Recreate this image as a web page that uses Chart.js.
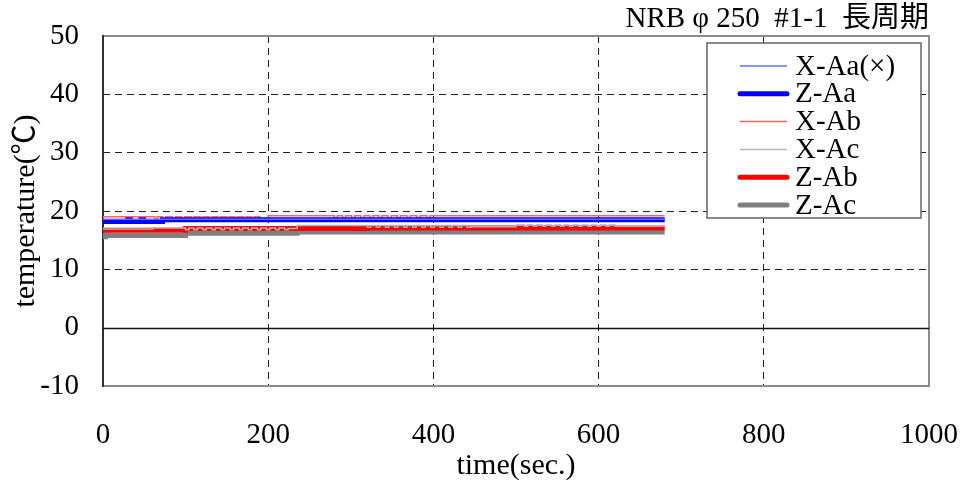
<!DOCTYPE html>
<html>
<head>
<meta charset="utf-8">
<script src="https://cdn.jsdelivr.net/npm/chart.js@4"></script>
<style>
  html, body { margin: 0; padding: 0; background: #fff; }
  #wrap { width: 962px; height: 488px; }
</style>
</head>
<body>
<div id="wrap"><canvas id="myChart"></canvas></div>
<script>
// series (time in sec, temperature in deg C), held as steps
var seriesNames = ["X-Aa(×)", "Z-Aa", "X-Ab", "X-Ac", "Z-Ab", "Z-Ac"];

var xaaT = [0, 680];
var xaaV = [18.6, 18.6];

var zaaT = [0, 30, 33, 46, 49, 72, 75, 680];
var zaaV = [18.5, 18.2, 18.5, 18.2, 18.5, 18.2, 18.5, 18.5];

var xabT = [0, 63, 66, 72, 76, 84, 88, 95, 99, 107, 110, 118, 121, 129, 132, 139, 142, 150, 153, 160, 163, 170, 173, 180, 183, 190, 193, 200,
            280, 284, 290, 294, 301, 305, 312, 316, 323, 327, 334, 338, 345, 349, 356, 360, 368, 372, 380, 384, 392, 396, 404, 410, 680];
var xabV = [18.7, 19.0, 18.7, 19.0, 18.7, 19.0, 18.7, 19.0, 18.7, 19.0, 18.7, 19.0, 18.7, 19.0, 18.7, 19.0, 18.7, 19.0, 18.7, 19.0, 18.7, 19.0, 18.7, 19.0, 18.7, 19.0, 18.7, 18.7,
            19.2, 18.9, 19.2, 18.9, 19.2, 18.9, 19.2, 18.9, 19.2, 18.9, 19.2, 18.9, 19.2, 18.9, 19.2, 18.9, 19.2, 18.9, 19.2, 18.9, 19.2, 18.9, 19.2, 19.2, 19.2];

var xacT = [0, 60,
            100, 104, 110, 114, 121, 125, 132, 136, 143, 147, 154, 158, 165, 169, 176, 180, 187, 191, 198, 202, 209, 213, 220, 224,
            235,
            320, 324, 331, 335, 342, 346, 353, 357, 364, 368, 375, 379, 386, 390, 397, 401, 408, 412, 419, 423, 430, 434, 441, 445,
            500,
            510, 514, 521, 525, 532, 536, 543, 547, 554, 558, 565, 569, 576, 580, 587, 591, 598, 602, 609, 613, 620, 624,
            680];
var xacV = [17.2, 16.9,
            17.1, 16.8, 17.1, 16.8, 17.1, 16.8, 17.1, 16.8, 17.1, 16.8, 17.1, 16.8, 17.1, 16.8, 17.1, 16.8, 17.1, 16.8, 17.1, 16.8, 17.1, 16.8, 17.1, 16.8,
            17.0,
            17.5, 17.2, 17.5, 17.2, 17.5, 17.2, 17.5, 17.2, 17.5, 17.2, 17.5, 17.2, 17.5, 17.2, 17.5, 17.2, 17.5, 17.2, 17.5, 17.2, 17.5, 17.2, 17.5, 17.2,
            17.3,
            17.6, 17.4, 17.6, 17.4, 17.6, 17.4, 17.6, 17.4, 17.6, 17.4, 17.6, 17.4, 17.6, 17.4, 17.6, 17.4, 17.6, 17.4, 17.6, 17.4, 17.6, 17.4,
            17.4];

var zabT = [0, 100, 320, 500, 680];
var zabV = [16.5, 16.7, 17.0, 17.1, 17.1];

var zacT = [0, 3, 7, 100, 235, 440, 680];
var zacV = [15.9, 15.6, 15.9, 15.8, 16.2, 16.4, 16.4];

var xTicks = [0, 200, 400, 600, 800, 1000];
var yTicks = [-10, 0, 10, 20, 30, 40, 50];

var chartTitle = "NRB φ 250  #1-1  長周期";
var FONT = "'Liberation Serif', 'Times New Roman', 'Noto Sans CJK JP', serif";

function pts(t, v) {
    return t.map(function (x, i) { return { x: x, y: v[i] }; });
}

var colors = ['#5f6fff', '#0000ff', '#ff6060', '#b4b4b4', '#ff0000', '#808080'];
var widths = [1.5, 5, 1.5, 1.5, 5, 5];
var series = [pts(xaaT, xaaV), pts(zaaT, zaaV), pts(xabT, xabV), pts(xacT, xacV), pts(zabT, zabV), pts(zacT, zacV)];

var datasets = seriesNames.map(function (name, i) {
    return {
        label: name,
        data: series[i],
        borderColor: colors[i],
        backgroundColor: colors[i],
        borderWidth: widths[i],
        pointRadius: 0,
        stepped: 'after',
        fill: false
    };
});

var framePlugin = {
    id: 'frame',
    beforeDatasetsDraw: function (chart) {
        var ctx = chart.ctx, a = chart.chartArea, y = chart.scales.y;
        ctx.save();
        ctx.strokeStyle = '#8c8c8c';
        ctx.lineWidth = 2;
        ctx.strokeRect(a.left, a.top, a.right - a.left, a.bottom - a.top);
        var y0 = Math.round(y.getPixelForValue(0)) + 0.5;
        ctx.strokeStyle = '#111';
        ctx.lineWidth = 1.5;
        ctx.beginPath();
        ctx.moveTo(a.left, y0);
        ctx.lineTo(a.right, y0);
        ctx.moveTo(a.left, a.top - 1);
        ctx.lineTo(a.left, a.bottom + 1);
        ctx.stroke();
        ctx.restore();
    },
    afterDraw: function (chart) {
        var ctx = chart.ctx, a = chart.chartArea;
        ctx.save();
        // title
        ctx.font = '29px ' + FONT;
        ctx.fillStyle = '#000';
        ctx.textAlign = 'right';
        ctx.textBaseline = 'middle';
        ctx.fillText(chartTitle, a.right, 19);

        // legend box
        var bx = 707, by = 43, bw = 214, bh = 175;
        ctx.fillStyle = '#fff';
        ctx.fillRect(bx, by, bw, bh);
        ctx.strokeStyle = '#666';
        ctx.lineWidth = 1.5;
        ctx.strokeRect(bx, by, bw, bh);
        ctx.textAlign = 'left';
        chart.data.datasets.forEach(function (ds, i) {
            var yy = by + 23 + i * 27.8;
            ctx.strokeStyle = ds.borderColor;
            ctx.lineWidth = ds.borderWidth;
            ctx.lineCap = ds.borderWidth > 2 ? 'round' : 'butt';
            ctx.beginPath();
            ctx.moveTo(740, yy);
            ctx.lineTo(787, yy);
            ctx.stroke();
            ctx.fillStyle = '#000';
            ctx.fillText(ds.label, 795, yy + 1);
        });
        ctx.restore();
    }
};

function edgeColor(list) {
    return function (c) {
        var v = c.tick ? c.tick.value : null;
        return list.indexOf(v) >= 0 ? 'rgba(0,0,0,0)' : '#222';
    };
}

var ctx = document.getElementById("myChart");
var myChart = new Chart(ctx, {
    type: 'line',
    data: { datasets: datasets },
    plugins: [framePlugin],
    options: {
        responsive: true,
        maintainAspectRatio: false,
        animation: false,
        layout: { padding: { top: 36, right: 33, left: 0, bottom: 0 } },
        plugins: {
            legend: { display: false },
            tooltip: { enabled: false },
            title: { display: false }
        },
        scales: {
            x: {
                type: 'linear',
                min: 0,
                max: 1000,
                afterBuildTicks: function (s) { s.ticks = xTicks.map(function (v) { return { value: v }; }); },
                afterFit: function (s) { s.height = 102; s.paddingLeft = 0; s.paddingRight = 0; },
                ticks: {
                    padding: 32, color: '#000', font: { family: FONT, size: 29 }, maxRotation: 0,
                    callback: function (v) { return String(v); }
                },
                grid: { color: edgeColor([0, 1000]), lineWidth: 1, drawTicks: false },
                border: { display: false, dash: [7, 5] },
                title: { display: true, text: 'time(sec.)', color: '#000', font: { family: FONT, size: 30 }, padding: { top: 0, bottom: 4 } }
            },
            y: {
                min: -10,
                max: 50,
                afterBuildTicks: function (s) { s.ticks = yTicks.map(function (v) { return { value: v }; }); },
                afterFit: function (s) { s.width = 103; s.paddingTop = 0; s.paddingBottom = 0; },
                ticks: { padding: 24, color: '#000', font: { family: FONT, size: 29 }, callback: function (v) { return String(v); } },
                grid: { color: edgeColor([-10, 0, 50]), lineWidth: 1, drawTicks: false },
                border: { display: false, dash: [7, 5] },
                title: { display: true, text: 'temperature(℃)', color: '#000', font: { family: FONT, size: 30 }, padding: { top: 8, bottom: 0 } }
            }
        }
    }
});
</script>
</body>
</html>
